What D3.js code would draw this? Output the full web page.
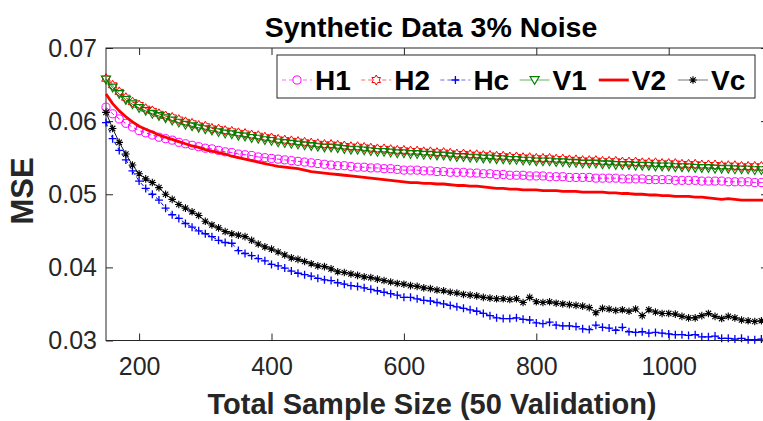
<!DOCTYPE html>
<html>
<head>
<meta charset="utf-8">
<script src="https://cdn.jsdelivr.net/npm/d3@7"></script>
<style>
  body { margin: 0; background: #fff; }
  svg { display: block; font-family: "Liberation Sans", Arial, Helvetica, sans-serif; }
  .tick text { fill: #262626; }
</style>
</head>
<body>
<svg id="chart" width="763" height="421"></svg>
<script>
// sample sizes 150..1150, step 10
const sampleSizes = d3.range(150, 1151, 10);

const h1 = [
  .0619,.0610,.0603,.0597,.0592,.0587,.0584,.0581,.0578,.0576,
  .0574,.0571,.0569,.0567,.0565,.0563,.0562,.0560,.0558,.0557,
  .0555,.0554,.0553,.0551,.0550,.0549,.0548,.0547,.0546,.0545,
  .0544,.0543,.0542,.0541,.0540,.0539,.0539,.0538,.0537,.0537,
  .0536,.0536,.0535,.0535,.0534,.0533,.0533,.0533,.0532,.0532,
  .0531,.0531,.0530,.0530,.0530,.0529,.0529,.0528,.0528,.0527,
  .0527,.0526,.0526,.0526,.0525,.0525,.0525,.0524,.0524,.0524,
  .0523,.0523,.0523,.0523,.0522,.0522,.0522,.0522,.0521,.0521,
  .0521,.0521,.0520,.0520,.0520,.0520,.0519,.0519,.0519,.0519,
  .0518,.0518,.0518,.0518,.0517,.0517,.0517,.0517,.0516,.0516,
  .0516
];
const h2 = [
  .0658,.0649,.0640,.0632,.0626,.0622,.0617,.0614,.0610,.0607,
  .0605,.0602,.0599,.0597,.0594,.0593,.0590,.0589,.0587,.0586,
  .0584,.0583,.0581,.0580,.0578,.0577,.0575,.0574,.0573,.0572,
  .0571,.0570,.0569,.0568,.0568,.0567,.0566,.0565,.0565,.0564,
  .0563,.0562,.0562,.0561,.0560,.0560,.0559,.0559,.0558,.0558,
  .0557,.0557,.0556,.0555,.0555,.0554,.0554,.0553,.0553,.0552,
  .0552,.0551,.0551,.0550,.0550,.0549,.0549,.0549,.0548,.0548,
  .0547,.0547,.0546,.0546,.0546,.0545,.0545,.0545,.0544,.0544,
  .0544,.0543,.0543,.0543,.0542,.0542,.0542,.0541,.0541,.0541,
  .0540,.0540,.0540,.0539,.0539,.0539,.0538,.0538,.0538,.0538,
  .0537
];
const hc = [
  .0598,.0576,.0560,.0547,.0532,.0518,.0508,.0500,.0492,.0481,
  .0472,.0467,.0460,.0455,.0450,.0446,.0442,.0437,.0434,.0433,
  .0423,.0419,.0416,.0412,.0409,.0404,.0402,.0399,.0395,.0392,
  .0390,.0388,.0385,.0383,.0382,.0379,.0377,.0375,.0374,.0372,
  .0370,.0368,.0366,.0364,.0362,.0359,.0359,.0357,.0355,.0354,
  .0352,.0350,.0348,.0346,.0344,.0342,.0340,.0337,.0334,.0331,
  .0330,.0330,.0331,.0329,.0328,.0324,.0323,.0325,.0321,.0320,
  .0320,.0319,.0316,.0315,.0321,.0318,.0317,.0314,.0318,.0312,
  .0311,.0312,.0310,.0311,.0310,.0309,.0308,.0308,.0307,.0308,
  .0305,.0305,.0306,.0303,.0303,.0302,.0303,.0301,.0301,.0302,
  .0301
];
const v1 = [
  .0657,.0646,.0637,.0629,.0623,.0618,.0614,.0610,.0607,.0604,
  .0601,.0598,.0595,.0593,.0591,.0589,.0587,.0585,.0583,.0582,
  .0580,.0579,.0577,.0576,.0574,.0573,.0571,.0570,.0569,.0568,
  .0567,.0566,.0565,.0564,.0564,.0563,.0562,.0561,.0561,.0560,
  .0559,.0558,.0558,.0557,.0556,.0556,.0555,.0555,.0554,.0554,
  .0553,.0553,.0552,.0551,.0551,.0550,.0550,.0549,.0549,.0548,
  .0548,.0547,.0547,.0546,.0546,.0545,.0545,.0545,.0544,.0544,
  .0543,.0543,.0542,.0542,.0542,.0541,.0541,.0540,.0540,.0540,
  .0539,.0539,.0539,.0538,.0538,.0538,.0537,.0537,.0537,.0536,
  .0536,.0536,.0535,.0535,.0535,.0534,.0534,.0534,.0533,.0533,
  .0533
];
const v2 = [
  .0637,.0624,.0614,.0606,.0599,.0593,.0589,.0585,.0581,.0578,
  .0575,.0572,.0569,.0566,.0564,.0561,.0559,.0557,.0555,.0552,
  .0550,.0548,.0546,.0544,.0542,.0540,.0538,.0537,.0536,.0535,
  .0533,.0531,.0530,.0529,.0528,.0527,.0526,.0525,.0524,.0523,
  .0522,.0521,.0520,.0519,.0518,.0517,.0516,.0516,.0515,.0515,
  .0514,.0514,.0513,.0512,.0512,.0511,.0511,.0510,.0509,.0508,
  .0508,.0507,.0507,.0506,.0506,.0506,.0505,.0505,.0505,.0504,
  .0504,.0504,.0503,.0503,.0503,.0503,.0502,.0502,.0501,.0501,
  .0500,.0500,.0499,.0499,.0498,.0498,.0497,.0497,.0497,.0496,
  .0496,.0495,.0494,.0493,.0494,.0493,.0492,.0492,.0492,.0492,
  .0492
];
const vc = [
  .0612,.0590,.0571,.0555,.0540,.0528,.0521,.0516,.0509,.0500,
  .0493,.0486,.0481,.0476,.0471,.0463,.0458,.0454,.0449,.0446,
  .0444,.0442,.0437,.0432,.0428,.0425,.0421,.0417,.0413,.0411,
  .0408,.0405,.0402,.0401,.0398,.0394,.0393,.0391,.0389,.0387,
  .0386,.0384,.0382,.0380,.0378,.0377,.0375,.0374,.0372,.0371,
  .0369,.0368,.0366,.0365,.0363,.0362,.0361,.0359,.0358,.0357,
  .0357,.0356,.0357,.0352,.0359,.0353,.0352,.0353,.0351,.0350,
  .0349,.0348,.0347,.0345,.0338,.0344,.0343,.0341,.0342,.0340,
  .0343,.0334,.0342,.0339,.0337,.0337,.0336,.0333,.0331,.0331,
  .0334,.0337,.0333,.0330,.0333,.0331,.0328,.0327,.0326,.0327,
  .0331
];

const seriesNames = ["H1", "H2", "Hc", "V1", "V2", "Vc"];
const seriesValues = [h1, h2, hc, v1, v2, vc];
const xTicks = [200, 400, 600, 800, 1000];
const yTicks = [0.03, 0.04, 0.05, 0.06, 0.07];

const titleText = "Synthetic Data 3% Noise";
const xLabel = "Total Sample Size (50 Validation)";
const yLabel = "MSE";

// marker shapes
function hexagramPath(ro, ri) {
  const pts = [];
  for (let k = 0; k < 12; k++) {
    const a = -Math.PI / 2 + k * Math.PI / 6;
    const r = k % 2 === 0 ? ro : ri;
    pts.push([r * Math.cos(a), r * Math.sin(a)]);
  }
  return "M" + pts.map(p => p.join(",")).join("L") + "Z";
}
const markerPaths = {
  circle: d3.symbol(d3.symbolCircle, 52)(),
  hexagram: hexagramPath(5, 2.9),
  plus: "M-4,0H4M0,-4V4",
  triDown: "M-4.6,-3.4L4.6,-3.4L0,4.4Z",
  none: null,
  star: "M-3.8,0H3.8M0,-3.8V3.8M-2.7,-2.7L2.7,2.7M-2.7,2.7L2.7,-2.7"
};

const styles = [
  { color: "#ff00ff", dash: "4,3", width: 1, marker: "circle", mstroke: 1 },
  { color: "#ff0000", dash: "4,3", width: 1, marker: "hexagram", mstroke: 1 },
  { color: "#0000ff", dash: "4,3", width: 1, marker: "plus", mstroke: 1.3 },
  { color: "#008000", dash: null, width: 1, marker: "triDown", mstroke: 1.1 },
  { color: "#ff0000", dash: null, width: 2.8, marker: "none", mstroke: 1 },
  { color: "#000000", dash: null, width: 0.9, marker: "star", mstroke: 1.1 }
];

const svg = d3.select("#chart");
const margin = { left: 106, top: 48, right: 768, bottom: 340.5 };

const x = d3.scaleLinear().domain([150, 1150]).range([margin.left, margin.right]);
const y = d3.scaleLinear().domain([0.03, 0.07]).range([margin.bottom, margin.top]);

const axisColor = "#262626";

// axes box
svg.append("rect")
  .attr("x", margin.left).attr("y", margin.top)
  .attr("width", margin.right - margin.left)
  .attr("height", margin.bottom - margin.top)
  .attr("fill", "none").attr("stroke", axisColor).attr("stroke-width", 1);

const gx = svg.append("g")
  .attr("transform", `translate(0,${margin.bottom})`)
  .call(d3.axisBottom(x).tickValues(xTicks).tickSize(-7).tickSizeOuter(0).tickPadding(17)
    .tickFormat(d3.format("d")));
const gxTop = svg.append("g")
  .attr("transform", `translate(0,${margin.top})`)
  .call(d3.axisTop(x).tickValues(xTicks).tickSize(-7).tickSizeOuter(0).tickFormat(""));
const gy = svg.append("g")
  .attr("transform", `translate(${margin.left},0)`)
  .call(d3.axisLeft(y).tickValues(yTicks).tickSize(-7).tickSizeOuter(0).tickPadding(9)
    .tickFormat(d3.format(".2f")));
const gyRight = svg.append("g")
  .attr("transform", `translate(${margin.right},0)`)
  .call(d3.axisRight(y).tickValues(yTicks).tickSize(-7).tickSizeOuter(0).tickFormat(""));

[gx, gxTop, gy, gyRight].forEach(g => {
  g.select(".domain").remove();
  g.selectAll(".tick line").attr("stroke", axisColor).attr("stroke-width", 1);
  g.selectAll(".tick text").attr("font-size", 25).attr("font-family", "Liberation Sans, Arial, sans-serif");
});

// series
const line = d3.line().x((d, i) => x(sampleSizes[i])).y(d => y(d));
const plot = svg.append("g");

seriesValues.forEach((vals, si) => {
  const st = styles[si];
  const g = plot.append("g").attr("class", "series-" + seriesNames[si]);
  g.append("path")
    .datum(vals)
    .attr("d", line)
    .attr("fill", "none")
    .attr("stroke", st.color)
    .attr("stroke-width", st.width)
    .attr("stroke-dasharray", st.dash)
    .attr("stroke-linejoin", "round");
  if (markerPaths[st.marker]) {
    g.selectAll("path.mk")
      .data(vals)
      .enter().append("path")
      .attr("class", "mk")
      .attr("d", markerPaths[st.marker])
      .attr("transform", (d, i) => `translate(${x(sampleSizes[i])},${y(d)})`)
      .attr("fill", "none")
      .attr("stroke", st.color)
      .attr("stroke-width", st.mstroke);
  }
});

// title and labels
svg.append("text")
  .attr("x", 431).attr("y", 37)
  .attr("text-anchor", "middle")
  .attr("font-size", 28.5).attr("font-weight", "bold").attr("fill", "#000")
  .text(titleText);

svg.append("text")
  .attr("x", 432).attr("y", 414)
  .attr("text-anchor", "middle")
  .attr("font-size", 29).attr("font-weight", "bold").attr("fill", "#262626")
  .text(xLabel);

svg.append("text")
  .attr("transform", "translate(33,191) rotate(-90)")
  .attr("text-anchor", "middle")
  .attr("font-size", 31).attr("font-weight", "bold").attr("fill", "#262626")
  .text(yLabel);

// legend
const legend = svg.append("g");
legend.append("rect")
  .attr("x", 277).attr("y", 55).attr("width", 478).attr("height", 43)
  .attr("fill", "#fff").attr("stroke", axisColor).attr("stroke-width", 1);

const legendX = d3.scaleLinear().domain([0, 5]).range([282, 678]);
const legendY = 80;
seriesNames.forEach((name, si) => {
  const st = styles[si];
  const x0 = legendX(si);
  const item = legend.append("g");
  item.append("line")
    .attr("x1", x0).attr("x2", x0 + 30)
    .attr("y1", legendY).attr("y2", legendY)
    .attr("stroke", st.color)
    .attr("stroke-width", st.width)
    .attr("stroke-dasharray", st.dash)
    .attr("stroke-opacity", si === 4 ? 1 : 0.6);
  if (markerPaths[st.marker]) {
    item.append("path")
      .attr("d", markerPaths[st.marker])
      .attr("transform", `translate(${x0 + 15},${legendY})`)
      .attr("fill", "#fff")
      .attr("stroke", st.color)
      .attr("stroke-width", st.mstroke);
  }
  item.append("text")
    .attr("x", x0 + 33).attr("y", 90)
    .attr("font-size", 28).attr("font-weight", "bold").attr("fill", "#000")
    .text(name);
});
</script>
</body>
</html>
